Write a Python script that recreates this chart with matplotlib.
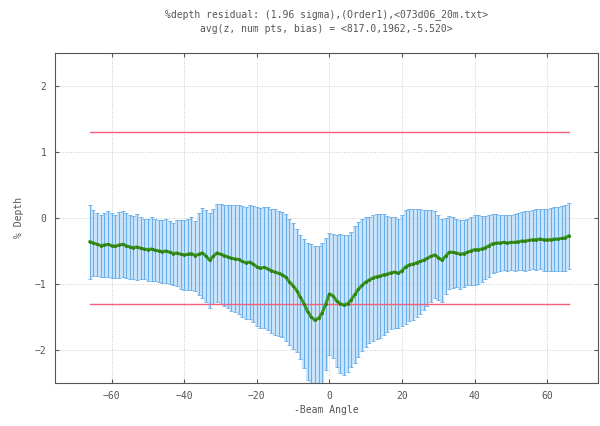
import numpy as np
import matplotlib
matplotlib.use("Agg")
import matplotlib.pyplot as plt

# beam angle, 1 deg steps
angle = np.arange(-66, 67)

mean_depth = [
    -0.36, -0.38, -0.40, -0.42, -0.41, -0.40, -0.42, -0.43, -0.41, -0.40,
    -0.42, -0.44, -0.45, -0.44, -0.46, -0.47, -0.48, -0.47, -0.49, -0.50,
    -0.51, -0.50, -0.52, -0.54, -0.53, -0.55, -0.56, -0.55, -0.54, -0.57,
    -0.55, -0.53, -0.58, -0.64, -0.58, -0.53, -0.55, -0.57, -0.59, -0.61,
    -0.62, -0.63, -0.66, -0.68, -0.67, -0.70, -0.74, -0.76, -0.75, -0.77,
    -0.80, -0.82, -0.84, -0.86, -0.90, -0.97, -1.03, -1.10, -1.20, -1.30,
    -1.42, -1.50, -1.55, -1.52, -1.44, -1.30, -1.15, -1.18, -1.26, -1.30,
    -1.32, -1.30, -1.24, -1.16, -1.08, -1.02, -0.97, -0.94, -0.91, -0.89,
    -0.88, -0.86, -0.85, -0.83, -0.82, -0.84, -0.80, -0.74, -0.71, -0.70,
    -0.68, -0.66, -0.64, -0.61, -0.58, -0.56, -0.60, -0.64, -0.58, -0.52,
    -0.52, -0.53, -0.55, -0.54, -0.52, -0.50, -0.48, -0.48, -0.47, -0.45,
    -0.42, -0.39, -0.38, -0.38, -0.37, -0.38, -0.37, -0.37, -0.36, -0.35,
    -0.35, -0.34, -0.33, -0.33, -0.32, -0.33, -0.33, -0.33, -0.32, -0.32,
    -0.31, -0.30, -0.27,
]

# 1.96 sigma half widths
err = [
    0.56, 0.50, 0.48, 0.47, 0.49, 0.50, 0.49, 0.48, 0.50, 0.50,
    0.49, 0.48, 0.48, 0.50, 0.47, 0.46, 0.47, 0.48, 0.47, 0.47,
    0.48, 0.49, 0.48, 0.47, 0.50, 0.52, 0.53, 0.54, 0.55, 0.53,
    0.62, 0.68, 0.70, 0.72, 0.72, 0.74, 0.76, 0.77, 0.78, 0.80,
    0.81, 0.82, 0.84, 0.85, 0.86, 0.88, 0.90, 0.91, 0.92, 0.93,
    0.94, 0.95, 0.95, 0.95, 0.96, 0.96, 0.95, 0.93, 0.94, 0.98,
    1.04, 1.10, 1.12, 1.10, 1.06, 1.00, 0.92, 0.94, 1.00, 1.05,
    1.06, 1.04, 1.02, 1.04, 1.02, 1.00, 0.98, 0.96, 0.96, 0.95,
    0.94, 0.92, 0.88, 0.85, 0.84, 0.83, 0.84, 0.86, 0.85, 0.84,
    0.82, 0.80, 0.76, 0.73, 0.70, 0.66, 0.65, 0.63, 0.58, 0.55,
    0.54, 0.52, 0.52, 0.51, 0.50, 0.52, 0.53, 0.52, 0.50, 0.48,
    0.47, 0.45, 0.44, 0.43, 0.42, 0.42, 0.42, 0.43, 0.43, 0.44,
    0.45, 0.45, 0.45, 0.46, 0.46, 0.47, 0.47, 0.48, 0.48, 0.49,
    0.49, 0.50, 0.50,
]

limit_hi = 1.3
limit_lo = -1.3
limit_x = [-66, 66]

title = ("%depth residual: (1.96 sigma),(Order1),<073d06_20m.txt>\n"
         "avg(z, num pts, bias) = <817.0,1962,-5.520>")

mean_depth = np.array(mean_depth)
err = np.array(err)

fig = plt.figure(figsize=(6.0, 4.26), dpi=100)
ax = fig.add_axes([0.0917, 0.101, 0.905, 0.775])

mono = "DejaVu Sans Mono"
txt = "#555555"

ax.fill_between(angle, mean_depth - err, mean_depth + err, step="mid",
                color="#cce5fb", lw=0, zorder=1)
ax.errorbar(angle, mean_depth, yerr=err, fmt="none", ecolor="#6aaeea",
            elinewidth=0.8, capsize=1.5, capthick=0.6, zorder=2)
ax.plot(limit_x, [limit_hi, limit_hi], color="#f2607a", lw=1.0, zorder=3)
ax.plot(limit_x, [limit_lo, limit_lo], color="#f2607a", lw=1.0, zorder=3)
ax.plot(angle, mean_depth, color="#3a9a1e", lw=2.2, marker="o", ms=2.2,
        markerfacecolor="#2f7f14", markeredgewidth=0, zorder=4)

ax.set_xlim(-75.6, 74)
ax.set_ylim(-2.5, 2.5)
ax.set_xticks([-60, -40, -20, 0, 20, 40, 60])
ax.set_yticks([-2, -1, 0, 1, 2])
ax.grid(True, color="#cccccc", ls=":", lw=0.7)
ax.tick_params(direction="in", top=True, right=True, length=3,
               labelsize=7, colors=txt, pad=6)
for lab in ax.get_xticklabels() + ax.get_yticklabels():
    lab.set_family(mono)
for sp in ax.spines.values():
    sp.set_color("#555555")

ax.set_xlabel("-Beam Angle", family=mono, fontsize=7, color=txt, labelpad=3)
ax.set_ylabel("% Depth", family=mono, fontsize=7, color=txt, labelpad=8)
ax.set_title(title, family=mono, fontsize=7, color=txt, pad=15,
             linespacing=1.45)

fig.savefig("out.png", dpi=100)
